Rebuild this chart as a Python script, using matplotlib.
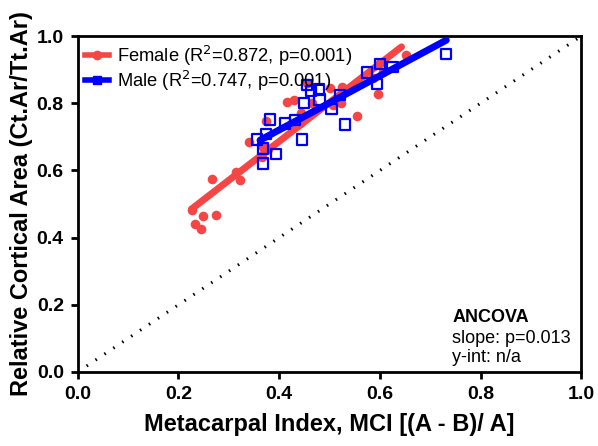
import matplotlib.pyplot as plt
import numpy as np

plt.rcParams['font.family'] = ['Liberation Sans', 'DejaVu Sans']

# female (red circles)
female_x = [0.226, 0.249, 0.274, 0.233, 0.244, 0.267, 0.315, 0.323, 0.341, 0.373,
            0.368, 0.365, 0.378, 0.416, 0.430, 0.443, 0.441, 0.456, 0.465, 0.473,
            0.501, 0.506, 0.525, 0.522, 0.554, 0.587, 0.597, 0.606, 0.652, 0.600]
female_y = [0.482, 0.464, 0.467, 0.440, 0.425, 0.576, 0.596, 0.573, 0.685, 0.748,
            0.670, 0.641, 0.664, 0.805, 0.810, 0.772, 0.740, 0.859, 0.801, 0.780,
            0.847, 0.795, 0.849, 0.801, 0.762, 0.874, 0.829, 0.894, 0.943, 0.920]

# male (blue open squares)
male_x = [0.732, 0.600, 0.574, 0.625, 0.595, 0.521, 0.504, 0.531, 0.455, 0.463,
          0.479, 0.480, 0.449, 0.445, 0.382, 0.412, 0.431, 0.374, 0.356, 0.368,
          0.394, 0.368]
male_y = [0.946, 0.917, 0.892, 0.909, 0.857, 0.824, 0.784, 0.737, 0.854, 0.836,
          0.841, 0.811, 0.801, 0.692, 0.752, 0.740, 0.750, 0.708, 0.692, 0.665,
          0.649, 0.621]

# regression lines
female_fit_x = [0.226, 0.643]
female_fit_y = [0.485, 0.968]
male_fit_x = [0.362, 0.732]
male_fit_y = [0.690, 0.988]

ticks = [0.0, 0.2, 0.4, 0.6, 0.8, 1.0]
red = '#f54545'
blue = '#0000ff'

fig = plt.figure(figsize=(5.98, 4.46), dpi=100)
ax = fig.add_axes([0.130, 0.166, 0.842, 0.753])

ax.plot([0, 1], [0, 1], color='black', lw=2.2, linestyle=(0, (0.5, 3.0)), zorder=1)

ax.scatter(female_x, female_y, s=48, color=red, zorder=3, linewidths=0)
ax.plot(female_fit_x, female_fit_y, color=red, lw=5, solid_capstyle='round', zorder=4)

ax.scatter(male_x, male_y, s=55, marker='s', facecolors='none', edgecolors=blue,
           linewidths=1.6, zorder=5)
ax.plot(male_fit_x, male_fit_y, color=blue, lw=5, solid_capstyle='round', zorder=6)

h1, = ax.plot([], [], color=red, lw=4, marker='o', ms=6, mec=red)
h2, = ax.plot([], [], color=blue, lw=4, marker='s', ms=6, mec=blue)
ax.legend([h1, h2], ['Female (R$^2$=0.872, p=0.001)', 'Male (R$^2$=0.747, p=0.001)'],
          loc='upper left', frameon=False, fontsize=13.2, handlelength=1.3,
          handletextpad=0.45, borderaxespad=0.0, labelspacing=0.05,
          bbox_to_anchor=(0.0, 1.0))

ax.text(0.744, 0.161, 'ANCOVA', fontsize=13, fontweight='bold', va='center')
ax.text(0.744, 0.101, 'slope: p=0.013', fontsize=13, va='center')
ax.text(0.744, 0.043, 'y-int: n/a', fontsize=13, va='center')

ax.set_xlim(0, 1)
ax.set_ylim(0, 1)
ax.set_xticks(ticks)
ax.set_yticks(ticks)
ax.set_xticklabels(['%.1f' % t for t in ticks], fontsize=14, fontweight='bold')
ax.set_yticklabels(['%.1f' % t for t in ticks], fontsize=14, fontweight='bold')
ax.tick_params(width=2, length=5, direction='out', pad=5)
for s in ax.spines.values():
    s.set_linewidth(2)

ax.set_xlabel('Metacarpal Index, MCI [(A - B)/ A]', fontsize=17, fontweight='bold', labelpad=7)
ax.set_ylabel('Relative Cortical Area (Ct.Ar/Tt.Ar)', fontsize=17, fontweight='bold', labelpad=3)

fig.savefig('out.png', dpi=100)
